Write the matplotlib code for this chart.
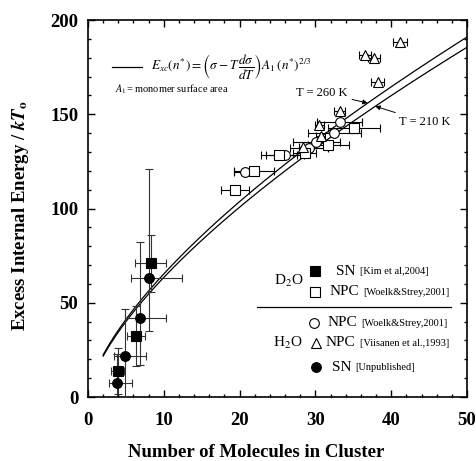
import numpy as np
import matplotlib
matplotlib.use("Agg")
import matplotlib.pyplot as plt
from matplotlib.ticker import MultipleLocator

plt.rcParams['font.family'] = 'serif'
plt.rcParams['font.serif'] = ['Liberation Serif', 'DejaVu Serif']
plt.rcParams['mathtext.fontset'] = 'stix'

# SN, D2O [Kim et al, 2004] - filled squares
sn_d2o_x = [3.9, 6.35, 8.3]
sn_d2o_y = [13.8, 32.4, 70.9]
sn_d2o_xerr = [0.9, 1.15, 2.05]
sn_d2o_yerr = [12, 16, 15]

# SN, H2O [Unpublished] - filled circles
sn_h2o_x = [3.8, 4.9, 6.8, 8.1]
sn_h2o_y = [7.6, 21.9, 42.0, 63.0]
sn_h2o_xlo = [1.0, 1.5, 1.9, 2.4]
sn_h2o_xhi = [2.0, 2.7, 3.5, 4.3]
sn_h2o_ylo = [15, 22, 25, 28]
sn_h2o_yhi = [15, 25, 40, 58]

# NPC, D2O [Woelk & Strey, 2001] - open squares
npc_d2o_x = [19.4, 21.9, 25.2, 28.6, 31.7, 35.1]
npc_d2o_y = [109.8, 120.0, 128.4, 129.5, 133.7, 142.9]
npc_d2o_xerr = [1.9, 2.6, 2.4, 1.5, 2.7, 3.4]

# NPC, H2O [Woelk & Strey, 2001] - open circles
npc_h2o_x = [20.7, 26.0, 29.2, 30.1, 32.5, 33.2]
npc_h2o_y = [119.5, 128.6, 132.0, 135.1, 139.9, 146.0]
npc_h2o_xerr = [1.5, 2.5, 2.5, 3.1, 3.5, 3.0]

# NPC, H2O [Viisanen et al., 1993] - open triangles
vii_x = [28.3, 30.7, 30.5, 33.2, 38.2, 36.5, 37.7, 41.2]
vii_y = [132.8, 138.6, 144.3, 151.5, 167.3, 181.4, 179.7, 188.5]
vii_xerr = [0.5, 0.6, 0.6, 0.7, 0.8, 0.8, 0.8, 0.9]

# prefactor of E = c * n^(2/3) for the two temperatures
curve_T = ['260', '210']
curve_c = [14.07, 13.67]

fig = plt.figure(figsize=(4.77, 4.61), dpi=100)
ax = fig.add_axes([0.1845, 0.1388, 0.7945, 0.8178])

n = np.linspace(2, 50, 200)
for c in curve_c:
    ax.plot(n, c * n ** (2 / 3), color='k', lw=0.9, zorder=2)

eb = dict(ecolor='k', elinewidth=0.8, capsize=3, capthick=0.8, ls='none',
          ms=7, mec='k', mew=0.8, zorder=3)

ax.errorbar(npc_h2o_x, npc_h2o_y, xerr=npc_h2o_xerr, fmt='o', mfc='white', **eb)
ax.errorbar(npc_d2o_x, npc_d2o_y, xerr=npc_d2o_xerr, fmt='s', mfc='white', **eb)
ax.errorbar(vii_x, vii_y, xerr=vii_xerr, fmt='^', mfc='white', **eb)
sn = dict(eb, ecolor='#333333')
ax.errorbar(sn_h2o_x, sn_h2o_y, xerr=[sn_h2o_xlo, sn_h2o_xhi],
            yerr=[sn_h2o_ylo, sn_h2o_yhi], fmt='o', mfc='k', **sn)
ax.errorbar(sn_d2o_x, sn_d2o_y, xerr=sn_d2o_xerr, yerr=sn_d2o_yerr,
            fmt='s', mfc='k', **sn)

# temperature labels
arr = dict(arrowstyle='-|>', lw=0.7, color='k', mutation_scale=7,
           shrinkA=1, shrinkB=0)
ax.annotate('T = %s K' % curve_T[0], xy=(36.9, curve_c[0] * 36.9 ** (2 / 3)),
            xytext=(27.5, 161.5), fontsize=9, ha='left', va='center',
            arrowprops=arr)
ax.annotate('T = %s K' % curve_T[1], xy=(37.9, curve_c[1] * 37.9 ** (2 / 3)),
            xytext=(41.0, 146.0), fontsize=9, ha='left', va='center',
            arrowprops=arr)

ax.set_xlim(0, 50)
ax.set_ylim(0, 200)
ax.xaxis.set_major_locator(MultipleLocator(10))
ax.xaxis.set_minor_locator(MultipleLocator(2))
ax.yaxis.set_major_locator(MultipleLocator(50))
ax.yaxis.set_minor_locator(MultipleLocator(10))
ax.tick_params(which='both', direction='in', top=True, right=True, width=1)
ax.tick_params(which='major', length=5, labelsize=13.5)
ax.tick_params(axis='x', which='major', pad=11)
ax.tick_params(axis='y', which='major', pad=7)
ax.tick_params(which='minor', length=2.5)
for lab in ax.get_xticklabels() + ax.get_yticklabels():
    lab.set_fontweight('bold')
for sp in ax.spines.values():
    sp.set_linewidth(1.2)

ax.set_xlabel('Number of Molecules in Cluster', fontsize=13.5,
              fontweight='bold')
ax.xaxis.set_label_coords(0.445, -0.125)
ax.set_ylabel(r'Excess Internal Energy / $\mathbfit{kT}_{\mathbf{o}}$',
              fontsize=13.5, fontweight='bold')
ax.yaxis.set_label_coords(-0.15, 0.48)

# formula legend (top left)
tr = ax.transAxes
ax.plot([0.0625, 0.1416], [0.876, 0.876], color='k', lw=0.9, transform=tr)
ax.text(0.165, 0.876,
        r'$E_{xc}(n^{*})=\left(\sigma-T\,\dfrac{d\sigma}{dT}\right)A_1\,(n^{*})^{2/3}$',
        fontsize=9.5, transform=tr, ha='left', va='center')
ax.text(0.071, 0.816, r'$A_1$= monomer surface area', fontsize=7.5,
        transform=tr, ha='left', va='center')

# symbol legend (bottom right)
def entry(xm, ym, marker, fill, xt, big, small):
    ax.plot([xm], [ym], marker=marker, ms=7, mfc=fill, mec='k', mew=0.8,
            ls='none', transform=tr, clip_on=False)
    t = ax.text(xt, ym, big, fontsize=11, transform=tr, ha='left', va='center')
    ax.annotate(small, xy=(1, 0.5), xycoords=t, xytext=(3, -0.5),
                textcoords='offset points', fontsize=7.5, ha='left', va='center')

entry(0.599, 0.334, 's', 'k', 0.654, 'SN', '[Kim et al,2004]')
entry(0.599, 0.279, 's', 'white', 0.636, 'NPC', '[Woelk&Strey,2001]')
entry(0.596, 0.197, 'o', 'white', 0.633, 'NPC', '[Woelk&Strey,2001]')
entry(0.602, 0.144, '^', 'white', 0.628, 'NPC', '[Viisanen et al.,1993]')
entry(0.602, 0.079, 'o', 'k', 0.643, 'SN', '[Unpublished]')
ax.text(0.530, 0.308, r'D$_2$O', fontsize=11, transform=tr, ha='center', va='center')
ax.text(0.526, 0.144, r'H$_2$O', fontsize=11, transform=tr, ha='center', va='center')
ax.plot([0.447, 0.957], [0.238, 0.238], color='k', lw=0.9, transform=tr)

fig.savefig('out.png', dpi=100)
